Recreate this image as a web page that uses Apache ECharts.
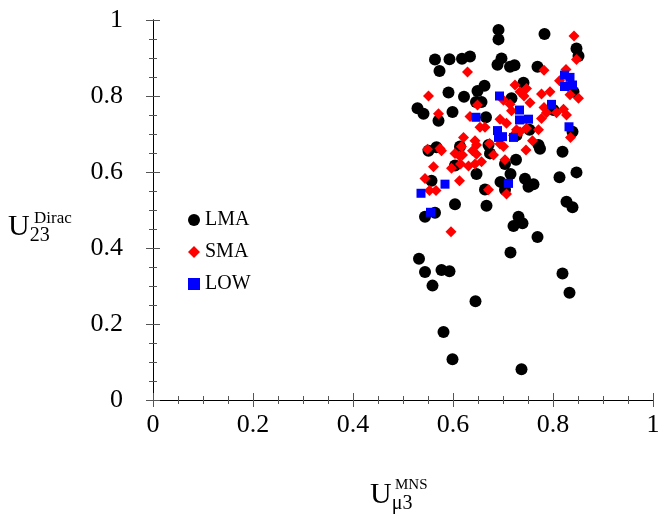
<!DOCTYPE html><html><head><meta charset="utf-8"><script src="https://cdn.jsdelivr.net/npm/echarts@6/dist/echarts.min.js"></script></head><body style="margin:0"><div id="c" style="width:664px;height:530px"></div><script>
const lma=[[0.691,0.974],[0.691,0.949],[0.783,0.963],[0.564,0.896],[0.593,0.897],[0.618,0.898],[0.634,0.904],[0.697,0.899],[0.689,0.882],[0.714,0.877],[0.723,0.881],[0.769,0.877],[0.573,0.866],[0.741,0.835],[0.847,0.925],[0.851,0.905],[0.663,0.827],[0.649,0.813],[0.591,0.809],[0.622,0.798],[0.717,0.794],[0.646,0.784],[0.657,0.784],[0.529,0.768],[0.541,0.753],[0.599,0.758],[0.571,0.735],[0.666,0.744],[0.801,0.763],[0.841,0.811],[0.753,0.711],[0.839,0.706],[0.567,0.665],[0.551,0.656],[0.614,0.667],[0.671,0.671],[0.674,0.649],[0.704,0.621],[0.771,0.671],[0.774,0.661],[0.819,0.653],[0.726,0.632],[0.604,0.617],[0.647,0.595],[0.715,0.595],[0.847,0.599],[0.813,0.586],[0.557,0.577],[0.695,0.574],[0.744,0.582],[0.761,0.568],[0.751,0.561],[0.664,0.554],[0.604,0.515],[0.667,0.511],[0.827,0.522],[0.839,0.507],[0.564,0.493],[0.544,0.482],[0.731,0.482],[0.704,0.553],[0.727,0.697],[0.721,0.458],[0.739,0.465],[0.769,0.429],[0.715,0.388],[0.532,0.372],[0.544,0.337],[0.577,0.342],[0.593,0.339],[0.819,0.333],[0.559,0.301],[0.833,0.282],[0.645,0.260],[0.581,0.179],[0.599,0.107],[0.737,0.081]];
const sma=[[0.842,0.958],[0.847,0.896],[0.629,0.863],[0.782,0.868],[0.551,0.800],[0.724,0.829],[0.747,0.820],[0.734,0.811],[0.742,0.800],[0.813,0.840],[0.826,0.870],[0.834,0.803],[0.851,0.794],[0.794,0.811],[0.777,0.805],[0.754,0.782],[0.714,0.778],[0.701,0.789],[0.649,0.776],[0.571,0.753],[0.634,0.746],[0.694,0.739],[0.707,0.728],[0.654,0.718],[0.664,0.718],[0.727,0.711],[0.747,0.715],[0.771,0.711],[0.777,0.741],[0.787,0.756],[0.782,0.770],[0.821,0.765],[0.827,0.750],[0.807,0.756],[0.621,0.691],[0.644,0.682],[0.647,0.671],[0.673,0.675],[0.694,0.674],[0.701,0.667],[0.574,0.662],[0.577,0.656],[0.549,0.660],[0.617,0.667],[0.604,0.649],[0.613,0.642],[0.619,0.645],[0.639,0.656],[0.647,0.647],[0.681,0.645],[0.657,0.627],[0.597,0.610],[0.615,0.621],[0.631,0.616],[0.644,0.621],[0.561,0.614],[0.704,0.632],[0.746,0.658],[0.759,0.682],[0.721,0.697],[0.835,0.691],[0.544,0.583],[0.613,0.577],[0.553,0.551],[0.566,0.551],[0.671,0.553],[0.707,0.542],[0.734,0.706],[0.717,0.761],[0.596,0.443]];
const low=[[0.693,0.800],[0.733,0.763],[0.733,0.737],[0.751,0.739],[0.646,0.744],[0.689,0.709],[0.691,0.691],[0.699,0.693],[0.721,0.691],[0.797,0.778],[0.823,0.855],[0.834,0.849],[0.823,0.825],[0.839,0.829],[0.832,0.719],[0.584,0.568],[0.536,0.544],[0.711,0.570],[0.555,0.494]];
const F='Liberation Serif';
const fmt=v=>String(v);
const ax=(pos,show,extra)=>Object.assign({type:'value',min:0,max:1,interval:0.2,position:pos,
 axisLine:{show:true,lineStyle:{color:'#000',width:1}},
 axisTick:{show:true,inside:true,length:7,lineStyle:{color:'#555'}},
 minorTick:{show:true,splitNumber:4,length:4,lineStyle:{color:'#555'}},
 splitLine:{show:false},
 axisLabel:{show:show,fontFamily:F,fontSize:25,color:'#000',formatter:fmt}},extra||{});
const c=echarts.init(document.getElementById('c'));
c.setOption({animation:false,
 grid:{left:153,right:11,top:20,bottom:130},
 xAxis:[ax('bottom',true,{axisLabel:{show:true,fontFamily:F,fontSize:26,color:'#000',margin:12,formatter:fmt}}),ax('top',false)],
 yAxis:[ax('left',true,{axisLabel:{show:true,fontFamily:F,fontSize:26,color:'#000',margin:30,formatter:fmt}}),ax('right',false)],
 legend:{orient:'vertical',left:183,top:205,itemGap:12,itemWidth:12,itemHeight:12,
  textStyle:{fontFamily:F,fontSize:20,color:'#000'},data:['LMA','SMA','LOW']},
 graphic:[
  {type:'text',left:8,top:212,style:{text:'{a|U}{s|23}',rich:{a:{fontFamily:F,fontSize:30},s:{fontFamily:F,fontSize:20,padding:[18,0,0,0]}}}},
  {type:'text',left:34,top:210,style:{text:'Dirac',font:'17px "Liberation Serif"'}},
  {type:'text',left:370,top:480,style:{text:'{a|U}{s|μ3}',rich:{a:{fontFamily:F,fontSize:30},s:{fontFamily:F,fontSize:20,padding:[18,0,0,0]}}}},
  {type:'text',left:395,top:478,style:{text:'MNS',font:'15px "Liberation Serif"'}}
 ],
 series:[
  {name:'LMA',type:'scatter',data:lma,symbol:'circle',symbolSize:12,itemStyle:{color:'#000',opacity:1}},
  {name:'SMA',type:'scatter',data:sma,symbol:'diamond',symbolSize:11,itemStyle:{color:'#f00',opacity:1}},
  {name:'LOW',type:'scatter',data:low,symbol:'rect',symbolSize:9,itemStyle:{color:'#00f',opacity:1}}
 ]});
</script></body></html>
